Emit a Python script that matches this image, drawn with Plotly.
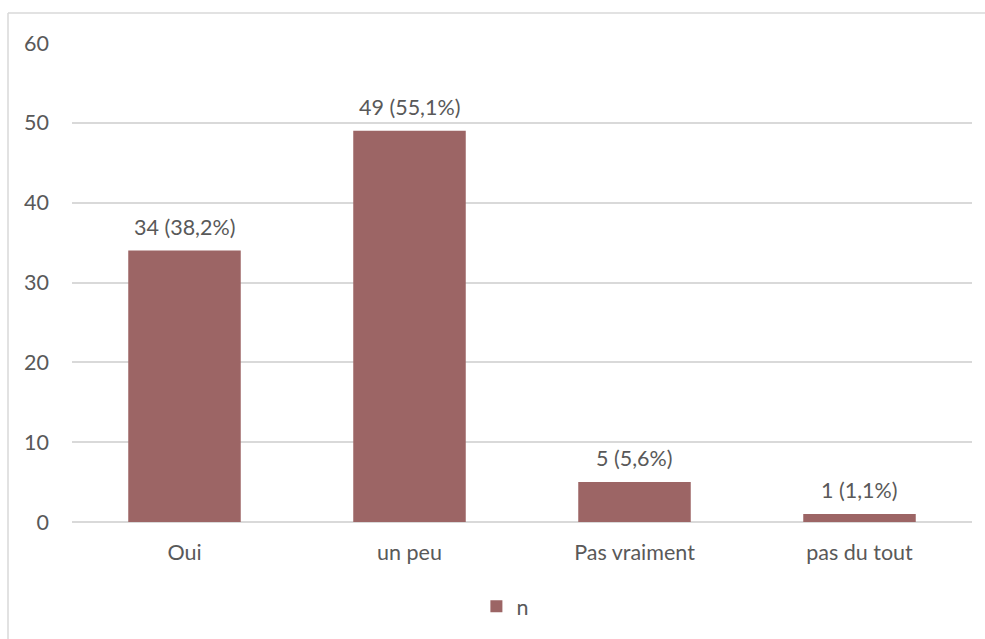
import plotly.graph_objects as go

categories = ["Oui", "un peu", "Pas vraiment", "pas du tout"]
values = [34, 49, 5, 1]
labels = ["34 (38,2%)", "49 (55,1%)", "5 (5,6%)", "1 (1,1%)"]
y_ticks = [0, 10, 20, 30, 40, 50, 60]

font = dict(family="Lato, Open Sans, sans-serif", size=21.5, color="#595959")

fig = go.Figure()
fig.add_trace(go.Bar(
    x=categories, y=values, name="n",
    marker=dict(color="#9C6565", line=dict(width=0)),
    width=0.5,
))
for c, v, t in zip(categories, values, labels):
    fig.add_annotation(x=c, y=v, text=t, showarrow=False, yanchor="bottom",
                       yshift=9, font=font)

border = dict(color="#D9D9D9", width=1.5)
fig.update_layout(
    width=985, height=639,
    margin=dict(l=72, r=13, t=43, b=117),
    paper_bgcolor="white", plot_bgcolor="white",
    font=font,
    showlegend=True,
    legend=dict(orientation="h", x=0.481, xanchor="center", y=-0.176, yanchor="middle",
                font=font, itemwidth=30),
    shapes=[
        dict(type="line", xref="paper", yref="paper", x0=-64/900, x1=1.3,
             y0=1 + 30/479, y1=1 + 30/479, line=border, layer="below"),
        dict(type="line", xref="paper", yref="paper", x0=-64/900, x1=-64/900,
             y0=-0.3, y1=1 + 30/479, line=border, layer="below"),
    ],
)
fig.update_xaxes(showgrid=False, showline=False, ticks="", tickfont=font, ticklabelstandoff=15)
fig.update_yaxes(range=[0, 60], tickvals=y_ticks, showgrid=True, gridcolor="#D9D9D9", gridwidth=1.5,
                 zeroline=True, zerolinecolor="#D9D9D9", zerolinewidth=1.5,
                 showline=False, ticks="", tickfont=font, ticklabelstandoff=22)

fig.write_html("out.html", config={"displayModeBar": False},
               post_script="document.body.style.margin='0';document.body.style.overflow='hidden';")
